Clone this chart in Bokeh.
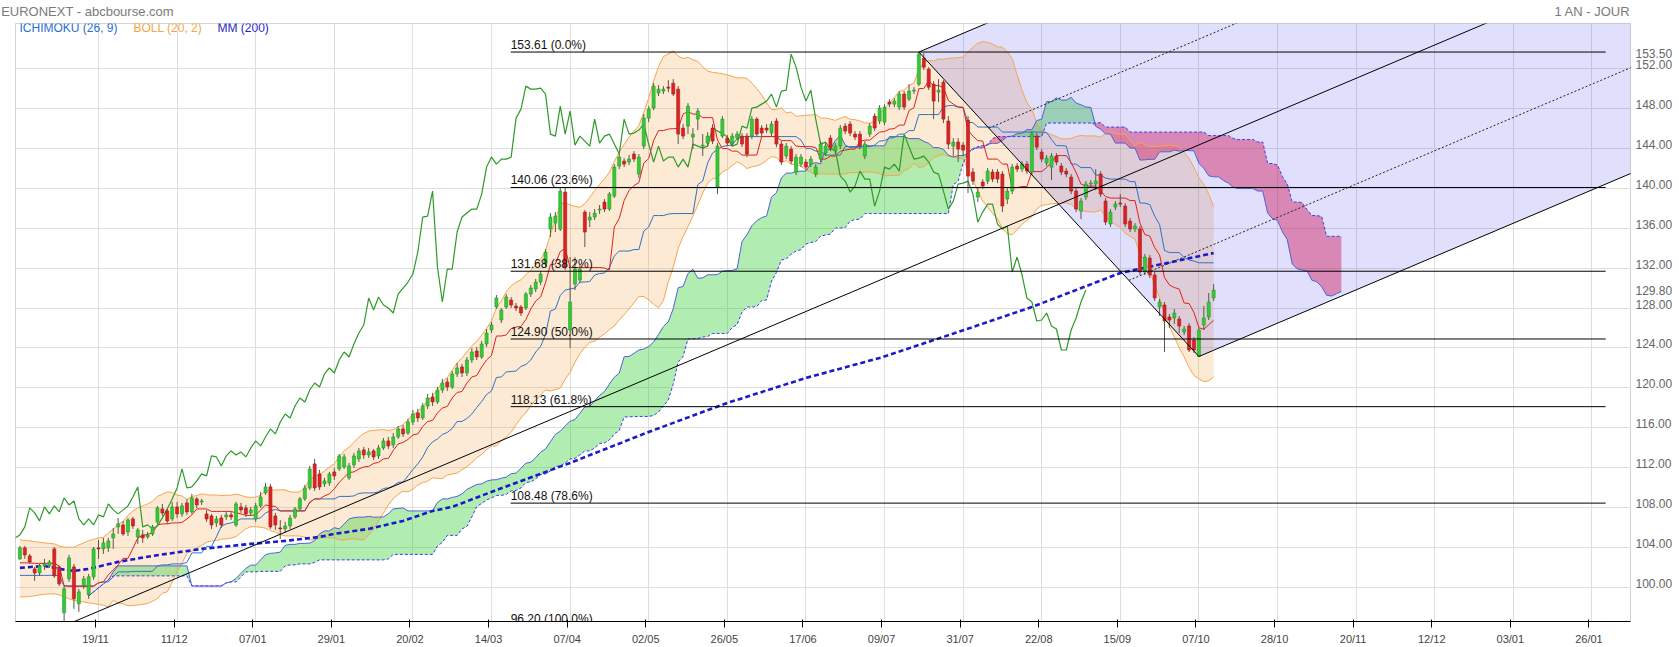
import numpy as np
import pandas as pd
from bokeh.plotting import figure
from bokeh.models import FixedTicker, Label, Range1d, LinearAxis
from bokeh.core.properties import value
from bokeh.embed import file_html
from bokeh.resources import INLINE

# ---------------- data ----------------
FIRST = -16  # bar index of the first candle (0 = 19/11)
open_ = [
    102.9, 104.0, 103.2, 101.9, 101.5, 102.2, 102.2, 103.9, 102.1, 97.5,
    100.9, 102.1, 98.4, 100.2, 99.3, 101.1, 104.0, 103.9, 104.0, 105.0,
    106.1, 106.3, 105.6, 106.9, 105.1, 105.3, 105.1, 105.4, 106.6, 107.9,
    107.7, 106.9, 108.1, 107.4, 108.5, 107.6, 108.9, 108.6, 107.4, 107.2,
    106.5, 107.0, 107.1, 107.3, 106.3, 108.1, 108.0, 107.5, 106.9, 108.2,
    109.5, 110.1, 107.2, 106.0, 105.9, 106.2, 107.1, 107.9, 108.9, 110.0,
    112.4, 111.4, 110.4, 110.5, 111.6, 111.9, 112.1, 111.0, 112.3, 112.9,
    113.8, 113.3, 113.7, 113.2, 114.0, 114.7, 114.3, 115.1, 115.9, 115.5,
    116.6, 117.5, 117.0, 118.2, 119.1, 118.6, 119.8, 120.6, 120.1, 121.4,
    122.1, 121.5, 122.8, 123.7, 123.1, 124.4, 125.8, 128.1, 126.8, 128.1,
    128.8, 128.2, 128.1, 128.0, 129.4, 129.9, 130.6, 132.4, 135.9, 136.5,
    135.9, 139.6, 125.8, 130.4, 130.8, 137.6, 136.8, 137.1, 137.8, 138.6,
    137.9, 139.2, 142.2, 142.7, 142.6, 143.4, 141.4, 144.2, 147.0, 148.0,
    149.5, 149.7, 150.1, 150.5, 149.9, 146.0, 146.2, 145.1, 146.9, 144.2,
    144.5, 146.0, 140.1, 145.2, 145.0, 144.5, 145.0, 145.2, 145.2, 145.2,
    146.9, 146.0, 146.0, 145.5, 146.7, 144.4, 143.2, 143.9, 141.6, 142.4,
    142.6, 142.4, 141.4, 142.9, 143.5, 145.0, 143.7, 144.2, 146.2, 146.4,
    145.4, 145.4, 143.2, 145.4, 147.2, 146.7, 146.6, 148.6, 148.4, 148.1,
    149.4, 148.9, 149.7, 150.4, 153.0, 151.9, 150.4, 149.6, 150.6, 146.7,
    144.2, 144.6, 144.3, 146.8, 141.6, 139.1, 140.6, 140.7, 141.6, 141.6,
    141.4, 138.9, 139.7, 142.2, 141.9, 142.4, 141.6, 145.2, 143.6, 142.5,
    142.1, 143.2, 142.2, 141.7, 141.1, 139.7, 137.7, 139.1, 140.4, 140.4,
    141.4, 138.7, 136.4, 138.1, 138.5, 138.2, 136.7, 135.9, 135.9, 131.6,
    133.0, 131.3, 128.1, 128.3, 127.1, 127.0, 126.9, 125.6, 126.2, 124.8,
    123.15, 126.3, 127.1, 129.0,
]
high = [
    104.2, 104.2, 103.4, 102.1, 102.4, 102.9, 102.8, 104.1, 102.2, 100.2,
    103.3, 102.4, 99.9, 101.2, 101.4, 104.1, 104.8, 105.0, 105.0, 106.0,
    107.0, 106.7, 107.0, 107.1, 106.0, 105.8, 105.6, 106.3, 108.2, 108.4,
    107.9, 108.6, 108.6, 108.5, 108.9, 109.4, 109.1, 108.9, 107.8, 107.4,
    107.2, 107.3, 107.6, 107.6, 108.6, 108.5, 108.3, 108.1, 108.5, 109.6,
    110.5, 110.4, 107.5, 106.8, 106.6, 107.3, 108.1, 109.1, 110.3, 112.2,
    112.9, 111.8, 111.0, 111.6, 112.0, 113.4, 113.4, 112.5, 113.5, 114.0,
    114.1, 114.0, 113.9, 114.3, 115.0, 115.1, 115.5, 116.2, 116.3, 116.9,
    117.8, 117.9, 118.5, 119.4, 119.5, 120.1, 120.9, 121.0, 121.7, 122.5,
    122.4, 123.1, 124.0, 124.1, 124.7, 125.9, 126.6, 129.3, 128.0, 129.4,
    129.1, 128.5, 128.3, 129.6, 130.3, 130.9, 131.7, 133.9, 137.5, 137.6,
    140.1, 140.0, 133.1, 133.1, 132.4, 137.8, 137.6, 137.9, 138.3, 138.9,
    139.6, 142.4, 143.4, 143.0, 143.3, 143.7, 143.4, 147.4, 148.2, 150.5,
    150.3, 150.2, 150.8, 150.9, 150.2, 146.4, 148.5, 146.0, 148.0, 145.4,
    145.6, 146.4, 144.5, 147.2, 145.3, 145.5, 145.7, 145.5, 145.5, 147.2,
    147.1, 146.3, 146.4, 146.7, 147.0, 144.7, 144.5, 144.2, 143.4, 143.4,
    142.9, 143.2, 142.4, 144.7, 144.5, 145.3, 144.5, 146.3, 146.5, 146.7,
    145.7, 145.7, 144.7, 146.5, 147.5, 148.3, 148.4, 148.9, 149.0, 149.7,
    149.7, 150.4, 150.1, 153.61, 153.5, 152.1, 150.7, 150.9, 150.8, 147.2,
    145.0, 145.0, 144.6, 147.2, 142.0, 140.1, 140.9, 142.0, 141.9, 141.9,
    141.7, 140.0, 142.4, 142.5, 142.7, 142.7, 145.7, 145.5, 143.9, 143.3,
    143.5, 143.5, 142.5, 142.0, 141.4, 140.0, 139.0, 140.7, 140.8, 141.9,
    141.7, 139.0, 137.9, 138.7, 139.4, 138.5, 137.0, 136.5, 136.2, 133.4,
    133.3, 131.6, 128.9, 128.6, 127.4, 127.9, 127.2, 126.2, 126.5, 125.1,
    126.0, 128.2, 129.5, 130.4,
]
low = [
    102.8, 102.9, 102.4, 100.7, 101.2, 101.8, 102.0, 101.0, 100.2, 96.2,
    100.6, 97.9, 97.6, 99.9, 98.9, 100.8, 102.9, 103.4, 103.6, 103.9,
    105.4, 105.2, 105.2, 105.9, 104.4, 104.5, 104.9, 105.2, 106.4, 107.2,
    106.4, 106.7, 107.0, 107.1, 107.3, 107.4, 108.0, 108.3, 106.6, 105.9,
    106.1, 106.0, 106.8, 106.8, 106.1, 107.5, 107.1, 107.2, 106.6, 108.0,
    109.3, 105.9, 105.8, 104.9, 105.5, 105.9, 106.9, 107.7, 108.7, 109.8,
    109.7, 109.8, 110.1, 110.2, 110.8, 111.7, 111.9, 110.8, 112.0, 112.6,
    112.9, 113.0, 112.8, 112.9, 113.8, 113.9, 114.0, 114.9, 115.1, 115.3,
    116.3, 116.6, 116.8, 117.9, 118.2, 118.4, 119.5, 119.7, 119.9, 121.1,
    121.1, 121.2, 122.5, 122.8, 122.9, 124.1, 125.5, 127.9, 126.5, 127.9,
    128.0, 127.7, 127.2, 127.8, 129.1, 129.6, 130.3, 132.1, 135.1, 135.6,
    135.7, 131.8, 124.0, 129.8, 130.5, 134.1, 136.1, 136.8, 137.4, 137.6,
    137.7, 139.0, 141.9, 142.1, 142.3, 142.6, 141.0, 143.9, 146.6, 147.8,
    149.2, 149.4, 149.6, 149.2, 144.4, 144.9, 145.4, 143.9, 145.8, 143.2,
    144.2, 144.4, 139.4, 145.0, 144.2, 144.2, 144.8, 144.1, 143.1, 144.9,
    145.1, 145.2, 145.5, 145.2, 144.1, 142.3, 142.9, 142.4, 141.3, 142.1,
    141.8, 142.1, 141.1, 142.6, 143.2, 143.7, 143.4, 143.9, 145.4, 145.2,
    144.8, 143.9, 142.9, 145.1, 145.7, 146.4, 146.3, 148.1, 148.1, 147.8,
    147.8, 148.7, 149.4, 150.2, 151.8, 149.8, 146.9, 148.6, 146.5, 143.9,
    143.2, 142.6, 143.2, 139.5, 140.3, 138.6, 139.9, 140.4, 140.6, 140.5,
    137.6, 138.4, 139.4, 141.6, 141.6, 141.4, 141.3, 143.8, 142.6, 142.2,
    140.8, 142.3, 141.3, 141.1, 139.4, 137.6, 136.9, 138.8, 140.1, 139.8,
    139.1, 136.3, 136.1, 137.8, 138.1, 136.1, 135.6, 135.6, 131.3, 131.3,
    131.0, 128.7, 127.2, 123.6, 126.0, 126.4, 125.5, 125.3, 123.6, 123.5,
    123.15, 125.8, 126.8, 128.7,
]
close = [
    104.0, 103.3, 102.6, 101.5, 102.2, 102.4, 102.6, 101.2, 100.4, 99.9,
    103.0, 98.9, 99.6, 100.9, 101.1, 103.9, 103.9, 104.5, 104.7, 105.4,
    106.4, 105.4, 106.8, 106.2, 105.8, 105.0, 105.3, 106.1, 108.0, 107.5,
    106.7, 108.1, 107.4, 108.2, 107.6, 109.0, 108.3, 108.7, 106.9, 106.3,
    106.9, 106.3, 107.3, 107.1, 108.4, 107.8, 107.4, 107.8, 108.2, 109.1,
    110.1, 106.1, 106.3, 105.9, 106.2, 107.0, 107.9, 108.9, 110.0, 111.9,
    110.0, 110.1, 110.7, 111.4, 111.2, 113.2, 113.1, 112.2, 113.2, 113.7,
    113.3, 113.6, 113.1, 114.0, 114.7, 114.2, 115.1, 115.9, 115.4, 116.6,
    117.4, 117.0, 118.2, 119.0, 118.6, 119.8, 120.5, 120.1, 121.4, 122.0,
    121.5, 122.8, 123.6, 123.1, 124.4, 125.5, 126.3, 129.0, 127.8, 129.1,
    128.3, 128.0, 127.5, 129.4, 130.0, 130.6, 131.4, 133.6, 137.1, 137.2,
    139.7, 132.1, 128.6, 131.9, 131.9, 135.6, 137.1, 137.5, 137.9, 137.9,
    139.4, 142.1, 143.1, 142.4, 142.9, 142.9, 143.1, 147.0, 147.9, 150.2,
    149.9, 149.9, 150.0, 149.4, 145.4, 145.2, 148.2, 145.4, 147.7, 144.3,
    145.2, 144.7, 144.2, 146.9, 144.5, 145.2, 145.4, 144.4, 143.4, 146.9,
    145.4, 145.5, 145.8, 146.4, 144.4, 142.6, 144.2, 142.7, 143.1, 143.1,
    142.1, 142.9, 142.1, 144.4, 144.2, 144.0, 144.2, 146.0, 145.7, 145.5,
    145.1, 144.2, 144.4, 146.2, 146.0, 148.0, 148.1, 148.4, 148.7, 149.4,
    148.1, 149.7, 149.8, 153.4, 152.1, 150.1, 148.7, 149.8, 146.9, 144.4,
    144.6, 143.9, 143.8, 141.2, 140.7, 139.6, 140.2, 141.7, 140.9, 140.9,
    138.2, 139.7, 142.1, 141.9, 142.4, 141.7, 145.4, 144.1, 142.9, 143.0,
    143.2, 142.6, 141.6, 141.4, 139.7, 137.9, 138.7, 140.4, 140.5, 140.7,
    139.4, 136.6, 137.6, 138.4, 138.4, 136.4, 135.9, 136.2, 131.6, 133.1,
    131.3, 129.0, 128.6, 126.7, 126.8, 127.5, 126.2, 125.9, 123.8, 123.8,
    125.8, 127.0, 128.6, 129.8,
]

# indicator values read for the first bars (windows not yet full)
bb_up_head = [104.8, 104.75, 104.7, 104.63, 104.55, 104.5, 104.45, 104.4, 104.2, 104.07,
              104.07, 104.07, 104.3, 104.5, 104.73, 104.85, 105.0, 105.06, 105.5]
bb_lo_head = [99.1, 99.1, 99.15, 99.2, 99.3, 99.35, 99.4, 99.4, 99.3, 99.1,
              98.9, 98.76, 98.65, 98.59, 98.5, 98.43, 98.35, 98.26, 98.1]
tenkan_head = [102.5, 102.5, 102.5]
kijun_head = [101.25, 101.25, 101.25, 101.25, 101.25, 101.25, 101.25, 101.25, 101.25]
# Ichimoku spans drawn before the computed projection starts (from bar -2)
span_head_first = -2
span_a_head = [99.2, 99.6, 100.0, 100.4, 100.8, 101.6, 102.2, 102.2, 102.2, 102.2, 102.2,
               102.2, 102.2, 102.2, 102.2, 102.2, 102.2, 102.2, 102.2, 102.2, 102.2]
span_b_head = [99.2, 99.6, 100.0, 100.4, 100.8, 101.2, 101.2, 101.2, 101.2, 101.2, 101.2,
               101.2, 101.2, 101.2, 101.2, 101.2, 101.2, 101.2, 101.2, 101.2, 101.2]
# 200-day moving average read on the chart
mm_idx = [-16, -11, -8, -5, -2, 4, 11, 21, 31, 38, 45, 48, 55, 62, 68, 72,
          80, 96, 112, 128, 144, 159, 175, 190, 208, 227]
mm_val = [102.0, 102.2, 101.9, 101.7, 101.9, 102.6, 103.2, 103.9, 104.4, 104.7, 105.1, 105.4,
          105.9, 106.7, 107.7, 108.1, 109.6, 112.5, 115.6, 118.5, 121.0, 123.0, 125.6, 128.1,
          131.5, 133.5]
# Fibonacci retracement levels
fib_levels = [153.61, 140.06, 131.68, 124.90, 118.13, 108.48, 96.20]
fib_pcts = ["0.0%", "23.6%", "38.2%", "50.0%", "61.8%", "78.6%", "100.0%"]
# Andrews pitchfork anchors (bar index, price)
fork_idx = [-7, 167, 224]
fork_price = [96.20, 153.61, 123.15]
# axes
x_tick_idx = list(range(0, 305, 16))
x_tick_labels = ["19/11", "11/12", "07/01", "29/01", "20/02", "14/03", "07/04", "02/05",
                 "26/05", "17/06", "09/07", "31/07", "22/08", "15/09", "07/10", "28/10",
                 "20/11", "12/12", "03/01", "26/01"]
y_ticks = list(range(100, 153, 4))
last_price = 129.80
high_badge = 153.50
header_texts = ["EURONEXT - abcbourse.com", "1 AN - JOUR"]

# ---------------- computations ----------------
n = len(close)
assert len(open_) == n and len(high) == n and len(low) == n, (len(open_), len(high), len(low), n)
idx = np.arange(FIRST, FIRST + n)
o = np.array(open_); c = np.array(close)
h = np.maximum(np.array(high), np.maximum(o, c))
l = np.minimum(np.array(low), np.minimum(o, c))
cs, hs, ls = pd.Series(c), pd.Series(h), pd.Series(l)

mid = cs.rolling(20).mean()
sd = cs.rolling(20).std(ddof=0)
bb_up = (mid + 2 * sd).to_numpy()
bb_lo = (mid - 2 * sd).to_numpy()
bb_up[:len(bb_up_head)] = bb_up_head
bb_lo[:len(bb_lo_head)] = bb_lo_head

tenkan = ((hs.rolling(9, min_periods=1).max() + ls.rolling(9, min_periods=1).min()) / 2).to_numpy()
kijun = ((hs.rolling(26, min_periods=1).max() + ls.rolling(26, min_periods=1).min()) / 2).to_numpy()
tenkan[:len(tenkan_head)] = tenkan_head
kijun[:len(kijun_head)] = kijun_head
span_a = (tenkan + kijun) / 2
span_b = ((hs.rolling(52, min_periods=1).max() + ls.rolling(52, min_periods=1).min()) / 2).to_numpy()
head_len = len(span_a_head)
first_computed = span_head_first + head_len - 26  # first bar whose spans are computed
use = idx >= first_computed
sx = np.concatenate([np.arange(span_head_first, span_head_first + head_len), idx[use] + 26])
sa = np.concatenate([span_a_head, span_a[use]])
sb = np.concatenate([span_b_head, span_b[use]])

chik_x = idx - 26
keep = chik_x >= FIRST - 1
chik_x, chik_y = chik_x[keep], c[keep]

# ---------------- figure ----------------
X0, X1 = -16.896, 311.86
Y0, Y1 = 96.635, 156.466
p = figure(width=1679, height=647, x_range=Range1d(X0, X1), y_range=Range1d(Y0, Y1),
           output_backend="svg", toolbar_location=None, y_axis_location="right",
           min_border_left=15, min_border_right=49, min_border_top=22, min_border_bottom=24)
p.background_fill_color = "white"
p.border_fill_color = "white"
p.outline_line_color = "#d4d4d4"

grid_col = "#dedede"
p.xgrid.ticker = FixedTicker(ticks=x_tick_idx)
p.ygrid.ticker = FixedTicker(ticks=y_ticks)
p.xgrid.grid_line_color = grid_col
p.ygrid.grid_line_color = grid_col

FONT = "Liberation Sans"
# price labels sit slightly above their grid lines, date labels slightly left of theirs
Y_LIFT = 0.4
X_SHIFT = -0.6
y_label_ticks = [v + Y_LIFT for v in y_ticks] + [high_badge, last_price]
y_label_text = {v + Y_LIFT: f"{v:.2f}" for v in y_ticks}
y_label_text.update({high_badge: f"{high_badge:.2f}", last_price: f"{last_price:.2f}"})
p.yaxis.ticker = FixedTicker(ticks=y_label_ticks)
p.yaxis.major_label_overrides = y_label_text
p.xaxis.ticker = FixedTicker(ticks=[t + X_SHIFT for t in x_tick_idx])
p.xaxis.major_label_overrides = {t + X_SHIFT: s for t, s in zip(x_tick_idx, x_tick_labels)}

# header line drawn as the labels of an axis above the frame
head_axis = LinearAxis(ticker=FixedTicker(ticks=[-2.24, 304.1]),
                       major_label_overrides={-2.24: header_texts[0], 304.1: header_texts[1]})
p.add_layout(head_axis, "above")

for ax in (p.xaxis[0], p.yaxis[0], head_axis):
    ax.axis_line_color = None
    ax.major_tick_line_color = None
    ax.minor_tick_line_color = None
    ax.major_tick_out = 0
    ax.major_tick_in = 0
    ax.minor_tick_out = 0
    ax.minor_tick_in = 0
    ax.major_label_text_color = "#666666"
    ax.major_label_text_font_size = "12px"
    ax.major_label_text_font = FONT
p.yaxis.major_label_standoff = 5
p.xaxis[0].major_label_text_font = "Liberation Sans Narrow, Liberation Sans"
p.xaxis[0].major_label_text_font_size = "13px"
p.xaxis[0].major_label_standoff = 4
head_axis.major_label_text_color = "#7a7a7a"
head_axis.major_label_text_font_size = "13px"
head_axis.major_label_standoff = 5

# fills
p.varea(x=idx, y1=bb_lo, y2=bb_up, fill_color="#f5a040", fill_alpha=0.22)
p.varea(x=sx, y1=sb, y2=np.maximum(sa, sb), fill_color="#33cc33", fill_alpha=0.38)
p.varea(x=sx, y1=sb, y2=np.minimum(sa, sb), fill_color="#f02850", fill_alpha=0.47)

# pitchfork geometry
ax_, bx_, cx_ = fork_idx
ay_, by_, cy_ = fork_price
mx_, my_ = (bx_ + cx_) / 2, (by_ + cy_) / 2
slope = (my_ - ay_) / (mx_ - ax_)
FAR = 400
p.patch([bx_, bx_ + FAR, cx_ + FAR, cx_], [by_, by_ + FAR * slope, cy_ + FAR * slope, cy_],
        fill_color="#0000f0", fill_alpha=0.12, line_color=None)

# indicator lines
p.line(idx, bb_up, color="#f5a54a", line_width=1)
p.line(idx, bb_lo, color="#f5a54a", line_width=1)
p.line(sx, sa, color="#4f62d6", line_width=1)
p.line(sx, sb, color="#3c3cf0", line_width=1, line_dash="3 2")
p.line(mm_idx, mm_val, color="#1a1acc", line_width=2.6, line_dash="5 3")
p.line(idx, kijun, color="#2f72c4", line_width=1)
p.line(idx, tenkan, color="#e0201a", line_width=1)
p.line(chik_x, chik_y, color="#2f9a2a", line_width=1.2)

# candles
up = c >= o
body_top = np.maximum(o, c)
body_bot = np.minimum(o, c)
p.segment(x0=idx, y0=l, x1=idx, y1=h, color="#5e5548", line_width=1)
p.vbar(x=idx[up], width=0.62, top=body_top[up], bottom=body_bot[up],
       fill_color="#33cc33", line_color="#22992a", line_width=0.6)
p.vbar(x=idx[~up], width=0.62, top=body_top[~up], bottom=body_bot[~up],
       fill_color="#dd2222", line_color="#aa1a1a", line_width=0.6)

# fibonacci
FIB_X0, FIB_X1 = 83.9, 306.8
p.segment(x0=[FIB_X0] * len(fib_levels), x1=[FIB_X1] * len(fib_levels), y0=fib_levels, y1=fib_levels,
          color="black", line_width=1)
p.text(x=[FIB_X0] * len(fib_levels), y=fib_levels,
       text=[f"{v:.2f}  ({q})" for v, q in zip(fib_levels, fib_pcts)],
       text_font=value(FONT), text_font_size="12px", text_color="#111111",
       text_baseline="bottom", text_align="left", y_offset=0)

# pitchfork lines
p.segment(x0=[ax_], y0=[ay_], x1=[ax_ + FAR * 2], y1=[ay_ + FAR * 2 * slope], color="black", line_width=1)
p.segment(x0=[bx_, cx_, bx_], y0=[by_, cy_, by_],
          x1=[bx_ + FAR, cx_ + FAR, cx_], y1=[by_ + FAR * slope, cy_ + FAR * slope, cy_],
          color="black", line_width=1)
q1 = (bx_ + 0.25 * (cx_ - bx_), by_ + 0.25 * (cy_ - by_))
q3 = (bx_ + 0.75 * (cx_ - bx_), by_ + 0.75 * (cy_ - by_))
p.segment(x0=[q1[0], q3[0]], y0=[q1[1], q3[1]],
          x1=[q1[0] + FAR, q3[0] + FAR], y1=[q1[1] + FAR * slope, q3[1] + FAR * slope],
          color="#222222", line_width=1, line_dash="2 2")

# indicator legend (screen units relative to the frame's bottom-left corner)
FH = 601
for xs, txt, col in [(4, "ICHIMOKU (26, 9)", "#1f6fd0"), (118, "BOLL (20, 2)", "#f5a54a"),
                     (202, "MM (200)", "#1c1cc8")]:
    p.add_layout(Label(x=xs, y=FH - 7, x_units="screen", y_units="screen", text=txt,
                       text_font=FONT, text_font_size="12px", text_color=col, text_baseline="middle"))

open("out.html", "w").write(file_html(p, INLINE))
